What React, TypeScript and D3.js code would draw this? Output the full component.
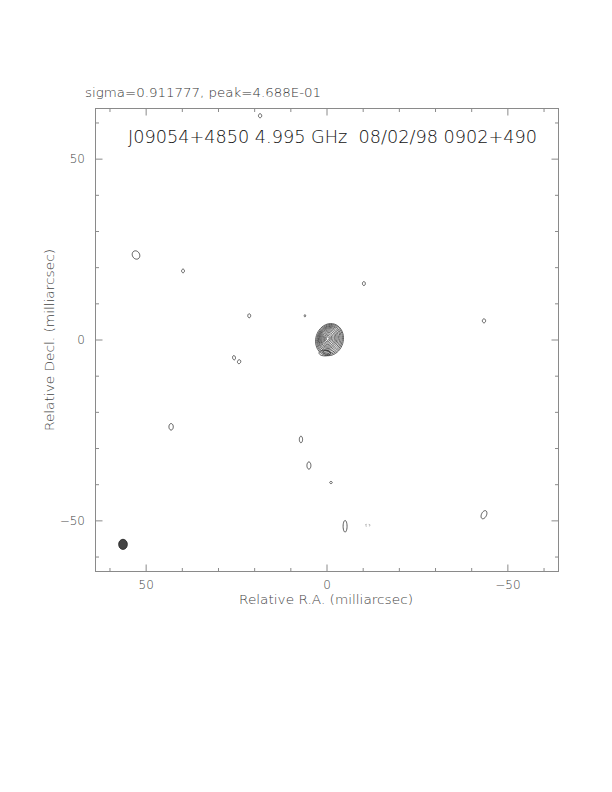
import React from "react";
import * as d3 from "d3";

// Axis ranges (milliarcsec)
const raDomain = [64, -64];
const decDomain = [64, -64];
const majorTicks = [50, 0, -50];
const minorTicks = [60, 40, 30, 20, 10, -10, -20, -30, -40, -60];

// Weak components: position (mas), half-axes (mas), tilt (deg)
const compRA = [18.5, 52.8, 39.8, 21.5, 25.7, 24.3, 6.1, -10.2, -43.4, 43.1, 7.2, 5.0, -1.1, -5.0, -43.4];
const compDec = [62.0, 23.5, 19.1, 6.7, -4.9, -6.0, 6.7, 15.6, 5.3, -24.0, -27.5, -34.7, -39.4, -51.5, -48.3];
const compRx = [0.45, 1.0, 0.4, 0.4, 0.4, 0.45, 0.2, 0.4, 0.45, 0.6, 0.45, 0.55, 0.35, 0.55, 0.7];
const compRy = [0.55, 1.2, 0.5, 0.55, 0.6, 0.55, 0.3, 0.55, 0.55, 0.9, 0.9, 1.0, 0.3, 1.6, 1.2];
const compTilt = [0, -30, 0, 0, -10, 20, 0, 0, 0, 0, 0, 0, 0, 0, 25];

// Core contours (nested): centre offset, half-axes (mas)
const coreRA = [-0.7, -0.7, -0.65, -0.6, -0.5, -0.45, -0.4, -0.35, -0.3, -0.25, -0.2, -0.2];
const coreDec = [0.1, 0.15, 0.2, 0.3, 0.35, 0.4, 0.4, 0.4, 0.4, 0.4, 0.4, 0.4];
const coreRx = [3.8, 3.5, 3.2, 2.9, 2.6, 2.3, 2.0, 1.7, 1.35, 1.0, 0.7, 0.4];
const coreRy = [4.5, 4.2, 3.85, 3.5, 3.15, 2.8, 2.45, 2.1, 1.7, 1.3, 0.9, 0.5];
const coreTilt = 17;

// Extra lobe at the bottom of the core
const lobeRA = [0.6, 0.2];
const lobeDec = [-3.6, -3.4];
const lobeRx = [1.6, 0.9];
const lobeRy = [0.8, 0.5];

// Negative (dashed) contour
const negRA = [-11.2];
const negDec = [-51.2];

// Beam
const beamRA = 56.4;
const beamDec = -56.5;
const beamRx = 1.2;
const beamRy = 1.4;

const titleText = "J09054+4850 4.995 GHz  08/02/98 0902+490";
const sigmaText = "sigma=0.911777, peak=4.688E-01";

export default function App() {
  const left = 95.5, right = 558.5, top = 108.5, bottom = 571.5;
  const x = d3.scaleLinear().domain(raDomain).range([left, right]);
  const y = d3.scaleLinear().domain(decDomain).range([top, bottom]);
  const pxPerMas = (right - left) / 128;

  const line = d3.line<[number, number]>().curve(d3.curveCardinalClosed.tension(0.2));
  const ellipse = (ra: number, dec: number, rx: number, ry: number, tilt: number) => {
    const cx = x(ra), cy = y(dec);
    const a = (tilt * Math.PI) / 180;
    const pts: [number, number][] = d3.range(24).map((i) => {
      const t = (i / 24) * 2 * Math.PI;
      const ex = rx * pxPerMas * Math.cos(t);
      const ey = ry * pxPerMas * Math.sin(t);
      return [cx + ex * Math.cos(a) - ey * Math.sin(a), cy + ex * Math.sin(a) + ey * Math.cos(a)];
    });
    return line(pts) as string;
  };

  const frame = "#8a8a8a";
  const font = "'DejaVu Sans', 'Liberation Sans', sans-serif";
  const fw = 200;
  const ticks: JSX.Element[] = [];
  const addTicks = (vals: number[], len: number, k: string) => {
    vals.forEach((v, i) => {
      const px = x(v), py = y(v);
      ticks.push(<line key={`${k}b${i}`} x1={px} x2={px} y1={bottom} y2={bottom - len} />);
      ticks.push(<line key={`${k}t${i}`} x1={px} x2={px} y1={top} y2={top + len} />);
      ticks.push(<line key={`${k}l${i}`} x1={left} x2={left + len} y1={py} y2={py} />);
      ticks.push(<line key={`${k}r${i}`} x1={right} x2={right - len} y1={py} y2={py} />);
    });
  };
  addTicks(majorTicks, 7, "M");
  addTicks(minorTicks, 3.5, "m");

  return (
    <svg width={612} height={792} style={{ display: "block", position: "absolute", left: 0, top: 0 }}>
      <rect x={0} y={0} width={612} height={792} fill="#fff" />
      <text x={85} y={97} fontFamily={font} fontWeight={fw} fontSize={13} fill="#333" textLength={236} lengthAdjust="spacingAndGlyphs">
        {sigmaText}
      </text>
      <rect x={left} y={top} width={right - left} height={bottom - top} fill="none" stroke={frame} strokeWidth={1} />
      <g stroke={frame} strokeWidth={1}>{ticks}</g>
      <text x={128} y={143} fontFamily={font} fontWeight={fw} fontSize={17} fill="#111" textLength={409} lengthAdjust="spacingAndGlyphs" style={{ whiteSpace: "pre" }}>
        {titleText}
      </text>
      {majorTicks.map((v) => (
        <text key={`bx${v}`} x={x(v)} y={589} textAnchor="middle" fontFamily={font} fontWeight={fw} fontSize={12} fill="#444">
          {v < 0 ? `\u2212${-v}` : `${v}`}
        </text>
      ))}
      {majorTicks.map((v) => (
        <text key={`ly${v}`} x={85} y={y(v) + 4.3} textAnchor="end" fontFamily={font} fontWeight={fw} fontSize={12} fill="#444">
          {v < 0 ? `\u2212${-v}` : `${v}`}
        </text>
      ))}
      <text x={326} y={604} textAnchor="middle" fontFamily={font} fontWeight={fw} fontSize={13} fill="#444" textLength={174} lengthAdjust="spacingAndGlyphs">
        Relative R.A. (milliarcsec)
      </text>
      <text transform="translate(54,340) rotate(-90)" textAnchor="middle" fontFamily={font} fontWeight={fw} fontSize={13} fill="#444" textLength={182} lengthAdjust="spacingAndGlyphs">
        Relative Decl. (milliarcsec)
      </text>
      <g fill="none" stroke="#333" strokeWidth={0.8}>
        {compRA.map((ra, i) => (
          <path key={`c${i}`} d={ellipse(ra, compDec[i], compRx[i], compRy[i], compTilt[i])} />
        ))}
        {coreRA.map((ra, i) => (
          <path key={`k${i}`} d={ellipse(ra, coreDec[i], coreRx[i], coreRy[i], coreTilt)} />
        ))}
        {lobeRA.map((ra, i) => (
          <path key={`l${i}`} d={ellipse(ra, lobeDec[i], lobeRx[i], lobeRy[i], 0)} />
        ))}
      </g>
      <g fill="none" stroke="#999" strokeWidth={0.8} strokeDasharray="1.5,2">
        {negRA.map((ra, i) => (
          <path key={`n${i}`} d={ellipse(ra, negDec[i], 0.8, 0.25, 0)} />
        ))}
      </g>
      <path d={ellipse(beamRA, beamDec, beamRx, beamRy, 0)} fill="#444" stroke="#222" strokeWidth={0.8} />
    </svg>
  );
}
